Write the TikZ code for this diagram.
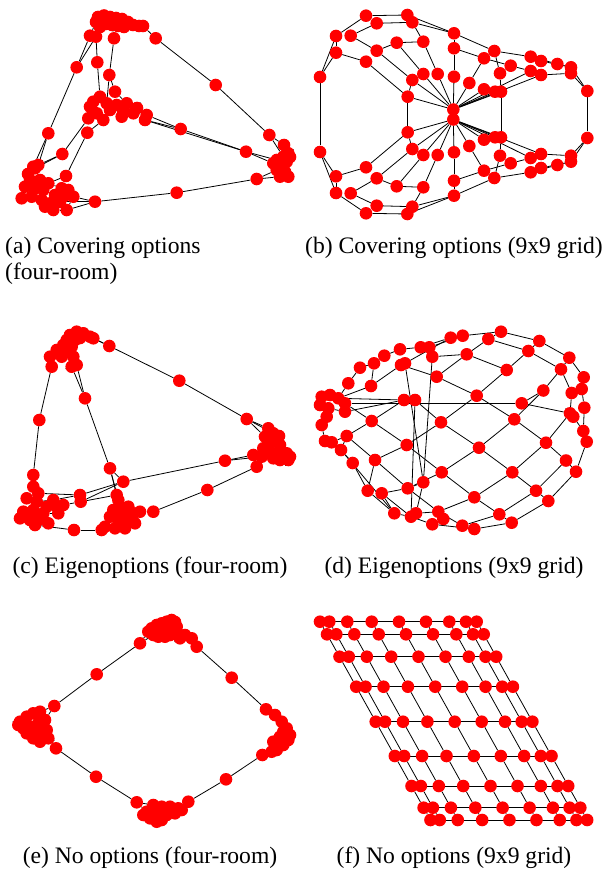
\documentclass[tikz,border=0pt]{standalone}
\usepackage{fontspec}
\setmainfont{Liberation Serif}
\usetikzlibrary{backgrounds}

\tikzset{
	vtx/.style={circle, fill=red, draw=none, inner sep=0pt, minimum size=12.6pt},
	edg/.style={draw=black, line width=0.8pt},
	capt/.style={font=\fontsize{23.6}{28}\selectfont, inner sep=0pt}
}

\begin{document}
\begin{tikzpicture}[x=1pt, y=-1pt]

		\useasboundingbox (0,0) rectangle (606,869);

		% Nodos (a) cubrimiento, cuatro cuartos
		\foreach \x/\y [count=\i] in {98/17, 104/15.5, 110/17, 116/18, 122/19, 128/22, 133/25, 139/26, 143/26, 96/22, 100/27, 106/24, 112/25, 118/26, 124/27,
			155.7/38.3, 90/35.7, 96/36.7, 114/38.3, 76.7/67.3, 97.3/62.3, 109.3/75, 215.7/85, 115/91.7,
			100/96.7, 93.3/101.7, 90/106.7, 106.7/103.3, 116.7/105, 126.7/103.3, 110/110, 123/110, 133.3/113.3, 88.3/118.3, 103.3/120, 121.7/116.7, 146.7/115, 145/120, 96.7/113.3, 137/108,
			180.7/129, 87.3/132.7, 48.3/133.3, 269.3/135, 284/145, 246/151.7, 62.3/154, 66/176, 256.7/179, 176.7/192.7, 95/201.7, 33.3/166.7, 38.3/165,
			288.3/153.3, 283.3/156.7, 276.7/160, 273.3/163.3, 286.7/161.7, 281.7/166.7, 276.7/170, 288.3/176.7, 280/176.7, 285/171.7, 290/157,
			35/168.3, 30/180, 40/180, 48.3/183.3, 25/186.7, 35/188.3, 43.3/190, 21.7/198.3, 31.7/196.7, 41.7/200, 50/203.3, 61.7/188.3, 68.3/190, 63.3/196.7, 73.3/196.7, 53.3/210, 66.7/210, 60/201.7, 45/206.7, 28/174, 55/195}
			\node[vtx] (a\i) at (\x,\y) {};

		% Nodos (b) cubrimiento, grilla 9x9 (mitad superior y su espejo)
		\foreach \h/\s in {t/1, b/-1}
			\foreach \x/\y [count=\i] in {366/15.7, 407.3/15, 376.7/23.3, 412.3/22.3, 336/36, 350.7/35.7, 454/33.3, 396.7/42.7, 423.3/41.7, 336/52.7,
				376.7/50.7, 454/48.3, 494.3/51, 484/58.3, 366/61.7, 530.7/56.7, 541/61, 557.3/64, 510.7/65.7, 571/67.3,
				320/77, 423.3/74, 437.7/74, 454/76.7, 412.3/80, 500/73.3, 530.7/71, 541/75, 571/73.3, 469.3/83,
				484/89.3, 495/91.7, 501/91.7, 407.7/96.7, 587.3/91, 453.3/109.5}
				\node[vtx] (b\h\i) at (\x,{114.5+\s*(\y-114.5)}) {};

		% Nodos (c) eigenoptions, cuatro cuartos
		\foreach \x/\y [count=\i] in {76.7/331.7, 83.3/333.3, 90/336.7, 70/335, 66.7/340, 75/340, 63.3/345, 71.7/346.7, 56.7/350, 65/351.7, 50/356.7, 61.7/356.7, 73.3/356.7, 51.7/366.7, 71.7/366.7, 76.7/365, 93.3/338.3, 80/338,
			109.3/346, 179.3/380.7, 85/398.3, 39.3/420, 246.7/419, 268.3/428.3,
			273.3/433.3, 279/436, 265/436.7, 271.7/441.7, 280/445, 263.3/448.3, 270/451.7, 276.7/453.3, 286.7/453.3, 290/456.7, 253.3/455, 261.7/456.7, 273.3/458.3, 280/460, 288.3/460, 256.7/466.7,
			225/460.7, 33.3/475, 110/468.3, 123.3/481.7, 33.3/486.7, 207.3/490, 80/495, 80.7/501.7,
			38.3/493.3, 26.7/498.3, 36.7/501.7, 53.3/500, 63.3/505, 46.7/506.7, 56.7/506.7, 23.3/511.7, 33.3/510, 43.3/513.3, 58.3/513.3, 20/518.3, 30/520, 38.3/520, 48.3/523.3, 35/525,
			116.7/495, 118.3/500, 120/506.7, 128.3/506.7, 113.3/510, 123.3/513.3, 133.3/513.3, 140/511.7, 110/516.7, 118.3/520, 128.3/520, 135/523.3, 105/526.7, 115/528.3, 125/528.3, 101.7/530,
			153.3/511.7, 74/530}
			\node[vtx] (c\i) at (\x,\y) {};

		% Nodos (d) eigenoptions, grilla 9x9
		\foreach \x/\y [count=\i] in {501/331.7, 462.7/335.7, 450.7/337.7, 488.3/339, 539.3/341, 420.7/347.3, 429.3/347.3, 400/349.3, 528.3/351, 466.7/354.3,
			432.3/356.7, 384.3/355.7, 569.3/357.7, 374/363.3, 401/365, 405/363.3, 360/367.7, 506.7/370, 561/369.3, 436.7/376.7,
			583.7/377.3, 348.3/383.3, 371/386, 543.3/390.5, 581.7/389, 571.7/393, 321.7/396.7, 330/395, 338.3/398.3, 345/403.3,
			320/405, 328.3/408.3, 326.7/416.7, 345/411.7, 321.7/425, 404/400, 415/400, 476.7/395.7, 521.7/403.3, 584.3/407.7,
			570/413.3, 573.3/416.7, 371.7/421, 441/422.3, 514.3/419.3, 346.7/436, 325/441, 331.7/442.3, 583.3/431, 586.7/441.7,
			406.7/445, 479/447.7, 546/442.7, 341/450, 375/460, 566/460.5, 352.7/463, 576/471.7, 441.7/472.3, 512.3/472.3,
			423.3/482.3, 407.7/488.3, 536/490.7, 367.7/490.7, 381.7/493.3, 548.3/501, 474.3/497.3, 394.3/513.3, 411/516.7, 416/513.3,
			438.3/511.7, 443.3/519, 499.3/514.3, 511.7/522.7, 432.3/524.3, 462.3/525.7, 474.3/529}
			\node[vtx] (d\i) at (\x,\y) {};

		% Nodos (e) sin opciones, cuatro cuartos
		\foreach \x/\y [count=\i] in {171.7/620, 166.7/621.7, 161.7/623.3, 156.7/625, 151.7/628.3, 148.3/631.7, 153.3/635, 158.3/636.7, 165/636.7, 170/635,
			176.7/633.3, 180/638.3, 185/635, 191.7/638.3, 196.7/646.7, 176.7/626.7, 166.7/630, 156.7/631.7, 175/622,
			140/643.3, 96.7/674.3, 54.3/706,
			40/711.7, 33.3/713.3, 26.7/716.7, 20/721.7, 18.3/725, 23.3/728.3, 30/726.7, 38.3/723.3, 45/720, 46.7/730, 43.3/736.7, 40/741.7, 33.3/738.3, 26.7/733.3, 36.7/733.3, 48.3/738.3,
			56/748.3, 96/776.7, 136.7/802.3,
			153.3/805, 161.7/806.7, 170/806.7, 178.3/808.3, 146.7/811.7, 143.3/815, 150/818.3, 156.7/821.7, 161.7/820, 166.7/815, 175/813.3, 181.7/810, 155/813.3, 188.3/801.7,
			226/779.3, 262.3/755,
			266/709.3, 275/715, 281.7/721.7, 286.7/728.3, 290/735, 288.3/740, 283.3/745, 276.7/750, 271.7/751.7, 280/736.7, 273.3/741.7, 283.3/731.7,
			231.7/677.7}
			\node[vtx] (e\i) at (\x,\y) {};

		% Nodos (f) sin opciones, grilla 9x9 inclinada
		\foreach \ry [count=\r] in {621.7, 634.3, 656.7, 686.7, 721.7, 756, 786, 807.7, 820}
			\foreach \cx [count=\c] in {320, 329.3, 347.3, 371.7, 399, 426, 449.3, 466, 476.7}
				\node[vtx] (f\r-\c) at ({\cx+0.557*(\ry-621.7)},\ry) {};

		% Aristas
		\begin{pgfonlayer}{background}
			\foreach \p/\q in {9/16, 16/23, 23/44, 44/45, 45/54, 44/55, 10/17, 17/20, 11/18, 18/20, 20/43, 43/52, 43/53, 53/65, 52/84, 18/21, 21/25,
				13/19, 19/22, 22/24, 24/30, 22/28, 37/41, 41/46, 46/57, 38/41, 38/46, 46/56, 33/37, 40/37, 34/47, 47/53, 42/48, 48/68, 35/42, 47/65,
				79/51, 51/50, 50/49, 49/62, 81/51, 82/51, 49/60,
				1/2, 2/3, 3/4, 4/5, 5/6, 6/7, 7/8, 8/9, 10/11, 11/12, 12/13, 13/14, 14/15, 1/10, 15/7,
				25/26, 26/27, 25/28, 28/29, 29/30, 30/40, 40/33, 27/39, 39/34, 39/35, 35/31, 31/32, 32/36, 36/33,
				54/64, 54/55, 55/56, 56/57, 57/59, 59/60, 58/63, 63/61, 61/62, 62/60,
				65/66, 66/69, 69/72, 72/73, 73/74, 74/75, 75/83, 83/80, 80/81, 81/79, 79/77, 77/76, 76/68, 68/67, 67/70, 70/71, 71/85, 85/82, 82/78}
				\draw[edg] (a\p) -- (a\q);

			\foreach \h in {t, b}
				\foreach \p/\q in {1/2, 3/4, 1/5, 3/6, 2/7, 4/7, 4/9, 5/21, 5/10, 10/21, 10/15, 6/11, 11/8, 8/9, 8/22, 9/23, 7/12, 12/24, 7/13, 12/14,
					13/16, 14/19, 14/30, 13/26, 16/18, 17/20, 16/17, 19/27, 27/28, 28/29, 18/20, 20/29, 29/35, 20/35, 19/26, 26/33, 15/34, 11/25, 25/34,
					36/22, 36/23, 36/24, 36/25, 36/30, 36/31, 36/32, 36/33, 36/34, 36/27, 36/28}
					\draw[edg] (b\h\p) -- (b\h\q);
			\foreach \p in {21, 33, 34, 35, 36}
				\draw[edg] (bt\p) -- (bb\p);

			\foreach \p/\q in {17/19, 3/19, 19/20, 20/23, 23/24, 23/25, 23/27, 14/22, 22/42, 42/45, 45/49, 15/21, 16/21, 21/43, 43/65, 43/44, 43/66,
				44/41, 41/35, 41/36, 44/47, 44/48, 65/48, 47/52, 48/53, 64/82, 82/80, 72/81, 81/46, 46/40,
				1/2, 2/3, 3/17, 1/4, 4/5, 5/7, 7/9, 9/11, 11/14, 6/8, 8/10, 10/12, 12/13, 13/15, 15/16, 18/6, 2/18,
				24/25, 25/26, 26/29, 27/28, 28/31, 30/31, 31/32, 32/33, 33/34, 35/36, 36/37, 37/38, 38/39, 39/34, 40/36,
				49/50, 50/51, 51/52, 52/53, 53/55, 55/54, 54/57, 57/56, 56/60, 60/61, 61/62, 62/63, 63/64, 58/59, 47/49,
				65/66, 66/67, 67/68, 68/71, 71/72, 69/70, 70/75, 73/74, 74/75, 75/76, 77/78, 78/79, 80/77, 69/73}
				\draw[edg] (c\p) -- (c\q);

			\foreach \p/\q in {1/2, 2/3, 1/4, 1/5, 4/9, 4/10, 5/9, 5/13, 3/6, 6/7, 6/8, 8/12, 12/14, 14/17, 17/22, 22/29, 9/18, 9/19, 13/19, 13/21,
				10/18, 10/20, 10/11, 11/7, 7/2, 3/16, 16/15, 15/20, 14/23, 23/15, 23/29, 18/38, 20/38, 19/24, 19/26, 21/25, 25/40, 26/41, 24/39, 24/45,
				30/39, 29/36, 34/36, 36/37, 36/43, 37/44, 38/44, 38/45, 43/30, 43/46, 43/51, 44/51, 44/52, 45/52, 45/53, 39/41, 40/49, 49/50, 41/42, 42/49,
				53/56, 53/41, 46/48, 46/54, 46/55, 47/48, 35/47, 33/35, 31/33, 27/31, 27/28, 28/29, 29/30, 30/34, 32/34, 31/32, 32/33,
				16/61, 11/61, 37/69,
				51/55, 51/59, 52/59, 52/60, 53/60, 56/63, 56/58, 50/58, 60/63, 55/62, 55/64, 54/57, 57/64, 54/68, 59/62, 59/67, 60/67, 62/65, 61/62,
				61/70, 62/71, 67/71, 67/73, 63/73, 63/66, 58/66, 66/74, 73/74, 73/76, 71/76, 71/72, 72/75, 70/71, 64/68, 65/68, 68/69, 69/75, 75/77,
				76/77, 74/77, 65/69}
				\draw[edg] (d\p) -- (d\q);

			\foreach \p/\q in {6/20, 7/20, 20/21, 21/22, 22/23, 22/31, 32/39, 38/39, 39/40, 40/41, 41/46, 41/42, 55/56, 53/55, 56/57, 57/66, 57/65,
				58/70, 70/15, 15/14, 58/59,
				1/2, 2/3, 3/4, 4/5, 5/6, 6/7, 7/8, 8/9, 9/10, 10/11, 11/12, 12/13, 13/14, 1/19, 19/16, 16/17, 17/18,
				23/24, 24/25, 25/26, 26/27, 27/28, 28/29, 29/30, 30/31, 32/33, 33/34, 34/35, 35/36, 36/37, 38/33,
				42/43, 43/44, 44/45, 45/53, 46/47, 47/48, 48/49, 49/50, 50/51, 51/52, 52/53, 54/51,
				59/60, 60/61, 61/62, 62/63, 63/64, 64/65, 65/66, 67/68, 69/67}
				\draw[edg] (e\p) -- (e\q);

			% grilla (f): filas y columnas
			\foreach \r in {1,...,9}
				\draw[edg] (f\r-1.center) -- (f\r-9.center);
			\foreach \c in {1,...,9}
				\draw[edg] (f1-\c) -- (f2-\c) -- (f3-\c) -- (f4-\c) -- (f5-\c) -- (f6-\c) -- (f7-\c) -- (f8-\c) -- (f9-\c);
		\end{pgfonlayer}

		% Leyendas
		\node[capt, anchor=base west] (capa) at (5,253) {(a) Covering options};
		\node[capt, anchor=base west] (capa2) at (5,279) {(four-room)};
		\node[capt, anchor=base] (capb) at (454,253) {(b) Covering options (9x9 grid)};
		\node[capt, anchor=base] (capc) at (150,573) {(c) Eigenoptions (four-room)};
		\node[capt, anchor=base] (capd) at (454,573) {(d) Eigenoptions (9x9 grid)};
		\node[capt, anchor=base] (cape) at (150,863) {(e) No options (four-room)};
		\node[capt, anchor=base] (capf) at (454,863) {(f) No options (9x9 grid)};

	\end{tikzpicture}
\end{document}
